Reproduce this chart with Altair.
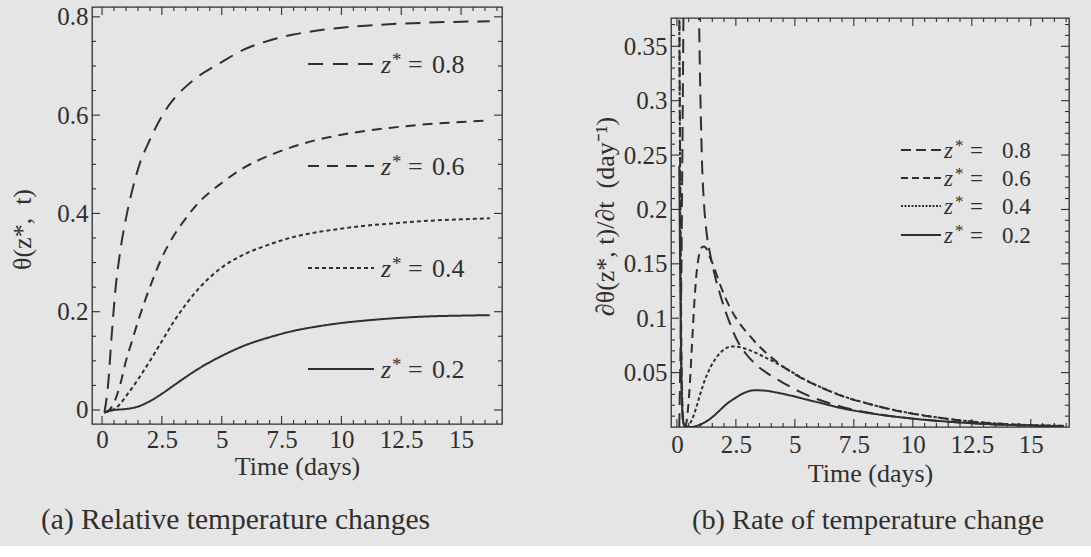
import altair as alt
import pandas as pd

FONT = "Liberation Serif"
INK = "#2f2f2f"
BG = "#e5e5e5"

series_names = ["0.8", "0.6", "0.4", "0.2"]

# ---------------- Panel (a): relative temperature change theta(z*, t) ----------------
a_t_08 = [0.1, 0.25, 0.4, 0.55, 0.75, 1.0, 1.25, 1.5, 2.0, 2.5, 3.0, 3.5, 4.0, 5.0, 6.0, 7.0, 8.0, 9.0, 10, 11, 12, 13, 14, 15, 16.2]
a_v_08 = [-0.005, 0.05, 0.15, 0.24, 0.32, 0.39, 0.445, 0.49, 0.55, 0.598, 0.633, 0.658, 0.678, 0.708, 0.735, 0.752, 0.764, 0.772, 0.778, 0.782, 0.785, 0.787, 0.789, 0.790, 0.791]

a_t_06 = [0.1, 0.3, 0.5, 0.75, 1.0, 1.25, 1.5, 2.0, 2.5, 3.0, 3.5, 4.0, 5.0, 6.0, 7.0, 8.0, 9.0, 10, 11, 12, 13, 14, 15, 16.2]
a_v_06 = [-0.005, 0.0, 0.015, 0.05, 0.10, 0.14, 0.18, 0.25, 0.31, 0.355, 0.39, 0.42, 0.462, 0.495, 0.518, 0.536, 0.55, 0.56, 0.568, 0.574, 0.579, 0.583, 0.586, 0.589]

a_t_04 = [0.1, 0.4, 0.6, 0.8, 1.0, 1.5, 2.0, 2.5, 3.0, 3.5, 4.0, 5.0, 6.0, 7.0, 8.0, 9.0, 10, 11, 12, 13, 14, 15, 16.2]
a_v_04 = [-0.005, 0.0, 0.005, 0.015, 0.028, 0.062, 0.10, 0.14, 0.18, 0.215, 0.245, 0.29, 0.318, 0.337, 0.352, 0.362, 0.369, 0.375, 0.379, 0.383, 0.386, 0.388, 0.39]

a_t_02 = [0.1, 0.5, 1.0, 1.5, 2.0, 2.5, 3.0, 3.5, 4.0, 5.0, 6.0, 7.0, 8.0, 9.0, 10, 11, 12, 13, 14, 15, 16.2]
a_v_02 = [-0.005, 0.0, 0.002, 0.007, 0.018, 0.033, 0.05, 0.067, 0.083, 0.11, 0.132, 0.148, 0.161, 0.17, 0.177, 0.182, 0.186, 0.189, 0.191, 0.192, 0.193]

# ---------------- Panel (b): rate of temperature change ----------------
b_t_08 = [0.1, 0.18, 0.25, 0.32, 0.5, 0.8, 0.92, 1.0, 1.07, 1.15, 1.25, 1.4, 1.6, 1.9, 2.2, 2.5, 2.9, 3.4, 4.0, 4.6, 5.2, 5.9, 6.6, 7.4, 8.2, 9.0, 10.0, 11.0, 12.0, 13.0, 14.0, 15.0, 16.4]
b_v_08 = [0.0, 0.12, 0.3, 0.5, 0.8, 0.55, 0.40, 0.30, 0.24, 0.205, 0.18, 0.16, 0.14, 0.117, 0.098, 0.082, 0.068, 0.0565, 0.047, 0.0395, 0.0325, 0.026, 0.021, 0.0163, 0.0128, 0.0102, 0.0077, 0.0057, 0.0041, 0.0029, 0.002, 0.0013, 0.0008]

b_t_06 = [0.1, 0.15, 0.2, 0.27, 0.35, 0.45, 0.55, 0.65, 0.75, 0.85, 0.95, 1.05, 1.15, 1.25, 1.35, 1.5, 1.7, 1.9, 2.2, 2.6, 3.0, 3.5, 4.0, 4.5, 5.0, 5.5, 6.2, 7.0, 8.0, 9.0, 10.0, 11.0, 12.0, 13.0, 14.0, 15.0, 16.4]
b_v_06 = [0.40, 0.2, 0.05, 0.006, 0.0, 0.012, 0.04, 0.08, 0.118, 0.145, 0.159, 0.165, 0.166, 0.164, 0.159, 0.151, 0.139, 0.127, 0.112, 0.097, 0.086, 0.074, 0.064, 0.0555, 0.0485, 0.0425, 0.0355, 0.0285, 0.022, 0.0165, 0.0122, 0.0088, 0.006, 0.004, 0.0026, 0.0017, 0.001]

b_t_04 = [0.1, 0.15, 0.2, 0.27, 0.4, 0.55, 0.7, 0.85, 1.0, 1.2, 1.45, 1.75, 2.05, 2.35, 2.7, 3.1, 3.6, 4.2, 4.8, 5.5, 6.2, 7.0, 8.0, 9.0, 10.0, 11.0, 12.0, 13.0, 14.0, 15.0, 16.4]
b_v_04 = [0.38, 0.17, 0.04, 0.004, 0.0, 0.003, 0.01, 0.02, 0.031, 0.044, 0.056, 0.066, 0.072, 0.074, 0.0732, 0.0705, 0.0655, 0.059, 0.0515, 0.0427, 0.0356, 0.0286, 0.0221, 0.0166, 0.0123, 0.0089, 0.0061, 0.0041, 0.0027, 0.0018, 0.0011]

b_t_02 = [0.1, 0.15, 0.2, 0.26, 0.35, 0.6, 0.9, 1.2, 1.5, 1.8, 2.1, 2.5, 2.9, 3.3, 3.7, 4.2, 4.8, 5.5, 6.2, 7.0, 8.0, 9.0, 10.0, 11.0, 12.0, 13.0, 14.0, 15.0, 16.4]
b_v_02 = [0.24, 0.12, 0.035, 0.006, 0.0, 0.0, 0.0015, 0.0045, 0.009, 0.015, 0.021, 0.027, 0.0318, 0.0338, 0.0335, 0.0318, 0.029, 0.0252, 0.0215, 0.0172, 0.0133, 0.0102, 0.0077, 0.0057, 0.0041, 0.0029, 0.002, 0.0013, 0.0008]

# tick values / labels
x_major = [0, 2.5, 5, 7.5, 10, 12.5, 15]
x_minor = [i * 0.5 for i in range(0, 34) if (i % 5) != 0]
a_y_major = [0, 0.2, 0.4, 0.6, 0.8]
a_y_minor = [round(i * 0.05, 2) for i in range(1, 17) if i % 4 != 0]
b_y_major = [0.05, 0.1, 0.15, 0.2, 0.25, 0.3, 0.35]
b_y_minor = [round(i * 0.01, 2) for i in range(1, 38) if i % 5 != 0]

captions = ["(a) Relative temperature changes", "(b) Rate of temperature change"]
y_titles = ["θ(z*,\u2002t)", "∂θ(z*, t)/∂t\u2002(day⁻¹)"]


def long_df(pairs):
    rows = []
    for name, ts, vs in pairs:
        for t, v in zip(ts, vs):
            rows.append({"series": name, "t": t, "v": v})
    return pd.DataFrame(rows)


one = pd.DataFrame({"k": [0]})


def frame_ticks(xs, ys, xax, yax, W, H, xmaj, xmin, ymaj, ymin):
    layers = []
    for vals, L in [(xmaj, 8), (xmin, 4)]:
        d = pd.DataFrame({"t": vals})
        base = alt.Chart(d).mark_rule(color=INK, strokeWidth=1.1)
        layers.append(base.encode(x=alt.X("t:Q", scale=xs, axis=xax), y=alt.value(H), y2=alt.value(H - L)))
        layers.append(base.encode(x=alt.X("t:Q", scale=xs, axis=xax), y=alt.value(0), y2=alt.value(L)))
    for vals, L in [(ymaj, 8), (ymin, 4)]:
        d = pd.DataFrame({"v": vals})
        base = alt.Chart(d).mark_rule(color=INK, strokeWidth=1.1)
        layers.append(base.encode(y=alt.Y("v:Q", scale=ys, axis=yax), x=alt.value(0), x2=alt.value(L)))
        layers.append(base.encode(y=alt.Y("v:Q", scale=ys, axis=yax), x=alt.value(W), x2=alt.value(W - L)))
    return layers


def legend_layers(rows, x0, x1, fs, sfs, zx, sx, ex, nx, dashes):
    layers = []
    for (name, yc, base), dash in zip(rows, dashes):
        layers.append(alt.Chart(one).mark_rule(color=INK, strokeWidth=2, strokeDash=dash).encode(
            x=alt.value(x0), x2=alt.value(x1), y=alt.value(yc)))
        common = dict(font=FONT, color=INK, align="left", baseline="alphabetic")
        layers.append(alt.Chart(one).mark_text(text="z", fontStyle="italic", fontSize=fs, **common).encode(
            x=alt.value(zx), y=alt.value(base)))
        layers.append(alt.Chart(one).mark_text(text="*", fontSize=sfs, **common).encode(
            x=alt.value(sx), y=alt.value(base - 7)))
        layers.append(alt.Chart(one).mark_text(text="=", fontSize=fs, **common).encode(
            x=alt.value(ex), y=alt.value(base)))
        layers.append(alt.Chart(one).mark_text(text=name, fontSize=fs, **common).encode(
            x=alt.value(nx), y=alt.value(base)))
    return layers


def axis(values, title, **kw):
    return alt.Axis(values=values, format=".3~g", title=title, ticks=False, domain=False, grid=False,
                    labelFont=FONT, labelFontSize=25, labelColor=INK, labelFlush=False, labelOverlap=False,
                    titleFont=FONT, titleFontSize=26, titleFontWeight="normal", titleColor=INK,
                    titleBaseline="alphabetic", **kw)


# ---------------- left panel ----------------
WA, HA = 410, 417
xs_a = alt.Scale(domain=[-0.42, 16.71], nice=False, zero=False)
ys_a = alt.Scale(domain=[-0.0285, 0.82], nice=False, zero=False)
xax_a = axis(x_major, "Time (days)", labelPadding=3, titleY=50)
yax_a = axis(a_y_major, y_titles[0], labelPadding=4, titleX=-62, titleY=222, titleAngle=270)
df_a = long_df([("0.8", a_t_08, a_v_08), ("0.6", a_t_06, a_v_06), ("0.4", a_t_04, a_v_04), ("0.2", a_t_02, a_v_02)])
dash_a = [[15, 9], [10, 7], [4, 3], [1, 0]]

lines_a = alt.Chart(df_a).mark_line(clip=True, strokeWidth=2, color=INK, interpolate="monotone").encode(
    x=alt.X("t:Q", scale=xs_a, axis=xax_a),
    y=alt.Y("v:Q", scale=ys_a, axis=yax_a),
    strokeDash=alt.StrokeDash("series:N", scale=alt.Scale(domain=series_names, range=dash_a), legend=None),
    detail="series:N",
)
leg_rows_a = [("0.8", 57, 66), ("0.6", 159, 168), ("0.4", 261, 270), ("0.2", 362, 371)]
cap_a = alt.Chart(one).mark_text(text=captions[0], font=FONT, fontSize=29.5, color=INK, align="left",
                                baseline="alphabetic").encode(x=alt.value(-51), y=alt.value(522))
left = alt.layer(
    lines_a,
    *frame_ticks(xs_a, ys_a, xax_a, yax_a, WA, HA, x_major, x_minor, a_y_major, a_y_minor),
    *legend_layers(leg_rows_a, 216, 282, 26, 19, 289, 300, 316, 340, [[15, 10], [11, 8], [4, 3], [1, 0]]),
    cap_a,
).properties(width=WA, height=HA)

# ---------------- right panel ----------------
WB, HB = 398, 409
xs_b = alt.Scale(domain=[-0.25, 16.62], nice=False, zero=False)
ys_b = alt.Scale(domain=[0, 0.376], nice=False, zero=False)
xax_b = axis(x_major, "Time (days)", labelPadding=5, titleY=54)
yax_b = axis(b_y_major, y_titles[1], labelPadding=4, titleX=-58, titleY=198, titleAngle=270)
df_b = long_df([("0.8", b_t_08, b_v_08), ("0.6", b_t_06, b_v_06), ("0.4", b_t_04, b_v_04), ("0.2", b_t_02, b_v_02)])
dash_b = [[14, 8], [9, 6], [3.5, 2.5], [1, 0]]

lines_b = alt.Chart(df_b).mark_line(clip=True, strokeWidth=2, color=INK, interpolate="monotone").encode(
    x=alt.X("t:Q", scale=xs_b, axis=xax_b),
    y=alt.Y("v:Q", scale=ys_b, axis=yax_b),
    strokeDash=alt.StrokeDash("series:N", scale=alt.Scale(domain=series_names, range=dash_b), legend=None),
    detail="series:N",
)
leg_rows_b = [("0.8", 132, 140), ("0.6", 160, 168), ("0.4", 188, 196), ("0.2", 217, 225)]
cap_b = alt.Chart(one).mark_text(text=captions[1], font=FONT, fontSize=28.3, color=INK, align="left",
                                baseline="alphabetic").encode(x=alt.value(21), y=alt.value(511))
right = alt.layer(
    lines_b,
    *frame_ticks(xs_b, ys_b, xax_b, yax_b, WB, HB, x_major, x_minor, b_y_major, b_y_minor),
    *legend_layers(leg_rows_b, 230, 270, 23, 17, 273, 284, 299, 331, [[10, 5], [7, 4], [2, 1.5], [1, 0]]),
    cap_b,
).properties(width=WB, height=HB)

# an invisible strip that lowers panel (b) slightly, as in the reference
spacer = alt.Chart(one).mark_point(opacity=0).encode(x=alt.value(0), y=alt.value(0)).properties(
    width=WB, height=1, view=alt.ViewBackground(stroke="transparent"))
right_col = alt.vconcat(spacer, right, spacing=5)

chart = (
    alt.hconcat(left, right_col, spacing=87)
    .resolve_scale(strokeDash="independent")
    .properties(padding={"left": 8, "top": 3, "right": 20, "bottom": 10})
    .configure(background=BG, font=FONT)
    .configure_view(stroke=INK, strokeWidth=1.3)
)

chart.save("out.html", embed_options={"renderer": "svg", "actions": False})
